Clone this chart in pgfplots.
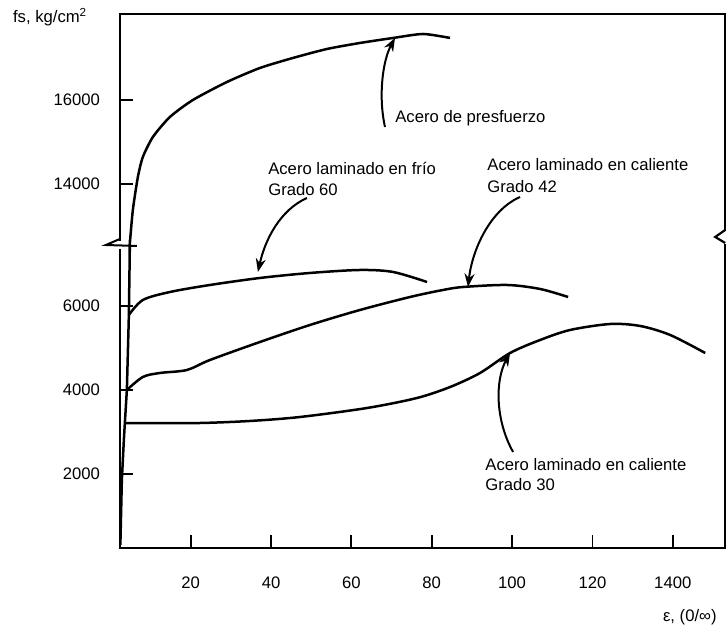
\documentclass[border=0pt]{standalone}
\usepackage{fontspec}
\setmainfont{Liberation Sans}
\usepackage{pgfplots}
\pgfplotsset{compat=1.18}
\usetikzlibrary{arrows.meta}
\begin{document}
\begin{tikzpicture}
\begin{axis}[
  name=ax, at={(0,0)}, anchor=south west,
  scale only axis, width=363pt, height=320.4pt,
  xmin=2.4, xmax=153.0, ymin=238, ymax=12952,
  y filter/.expression={y>10000 ? y-5100 : y},
  clip=false,
  scaled ticks=false,
  axis line style={line width=1.4pt},
  tick pos=left, tick align=inside,
  major tick length=8pt,
  every tick/.style={black, line width=1.1pt},
  xtick={20,40,60,80,100,120,140},
  xticklabels={20,40,60,80,100,120,1400},
  ytick={2000,4000,6000,8900,10900},
  yticklabels={2000,4000,6000,14000,16000},
  /pgf/number format/assume math mode=true,
  ticklabel style={font=\fontsize{10}{12}\selectfont},
  xticklabel style={yshift=-14pt},
  yticklabel style={xshift=-8.5pt},
]
% common elastic branch
\addplot[black, line width=1.5pt] coordinates {
 (2.49,310) (2.86,1857) (3.36,2810) (3.61,3214) (4.11,4000) (4.61,5786)};
% Acero de presfuerzo
\addplot[black, line width=1.5pt, smooth, tension=0.4] coordinates {
 (4.61,5786) (4.86,7500)
 (4.86,12600) (5.60,13386) (6.85,14171) (8.09,14648) (10.59,15124) (14.82,15600)
 (20.55,16005) (29.02,16433) (37.24,16767) (45.45,17005) (53.92,17219) (62.14,17362)
 (70.36,17481) (77.83,17576) (84.56,17481)};
% Acero laminado en frio, Grado 60
\addplot[black, line width=1.5pt, smooth, tension=0.5] coordinates {
 (4.61,5786) (8.09,6143) (14.82,6333) (24.78,6500) (37.24,6667) (49.69,6786) (62.14,6857)
 (70.36,6810) (78.83,6571)};
% Acero laminado en caliente, Grado 42
\addplot[black, line width=1.5pt, smooth, tension=0.5] coordinates {
 (4.11,4000) (8.09,4310) (12.33,4405) (19.05,4476) (24.78,4714) (37.24,5143) (49.69,5548)
 (62.14,5905) (74.59,6214) (82.81,6381) (87.80,6452) (98.75,6500) (106.97,6405)
 (113.95,6214)};
% Acero laminado en caliente, Grado 30
\addplot[black, line width=1.5pt, smooth, tension=0.5] coordinates {
 (3.61,3214) (9.84,3214) (22.29,3214) (34.74,3262) (47.20,3357) (63.88,3571) (76.34,3810)
 (84.56,4071) (92.03,4405) (99.50,4881) (106.97,5190) (114.45,5429) (124.41,5571)
 (131.88,5524) (139.35,5310) (148.07,4881)};

% axis breaks
\fill[white] (axis cs:1.62,7548) rectangle (axis cs:3.11,7357);
\draw[line width=1.2pt] (axis cs:2.37,7595) -- (axis cs:-1.12,7452) -- (axis cs:6.60,7429);
\fill[white] (axis cs:152.3,7786) rectangle (axis cs:153.8,7476);
\draw[line width=1.3pt] (axis cs:153.05,7810) -- (axis cs:150.56,7643) -- (axis cs:153.05,7500);

% arrows
\draw[line width=1.2pt, -{Stealth[length=8pt,width=6pt]}] (axis cs:68.36,10262) .. controls (axis cs:66.62,11024) and (axis cs:67.87,11857) .. (axis cs:70.86,12381);
\draw[line width=1.2pt, -{Stealth[length=8pt,width=6pt]}] (axis cs:48.94,8571) .. controls (axis cs:42.22,8286) and (axis cs:38.48,7571) .. (axis cs:36.74,6810);
\draw[line width=1.2pt, -{Stealth[length=8pt,width=6pt]}] (axis cs:101.99,8595) .. controls (axis cs:94.52,8286) and (axis cs:90.04,7333) .. (axis cs:89.04,6452);
\draw[line width=1.2pt, -{Stealth[length=8pt,width=6pt]}] (axis cs:100.25,2524) .. controls (axis cs:95.77,3286) and (axis cs:95.77,4238) .. (axis cs:99.50,4881);

% labels
\begin{scope}[every node/.style={inner sep=0pt, anchor=west, font=\fontsize{10}{12}\selectfont}]
\node at (axis cs:70.86,10476) {Acero de presfuerzo};
\node at (axis cs:39.23,9286) {Acero laminado en frío};
\node at (axis cs:39.23,8762) {Grado 60};
\node at (axis cs:93.77,9357) {Acero laminado en caliente};
\node at (axis cs:93.77,8833) {Grado 42};
\node at (axis cs:93.27,2214) {Acero laminado en caliente};
\node at (axis cs:93.27,1738) {Grado 30};
\node at (axis cs:-24.3,12881) {fs, kg/cm\textsuperscript{2}};
\node[anchor=east] at (axis cs:151.0,-1405) {ε, (0/∞)};
\end{scope}
\end{axis}
\pgfresetboundingbox
\path[use as bounding box] (ax.south west) ++(-72pt,-48pt) rectangle ++(436.2pt,376.8pt);
\end{tikzpicture}
\end{document}
